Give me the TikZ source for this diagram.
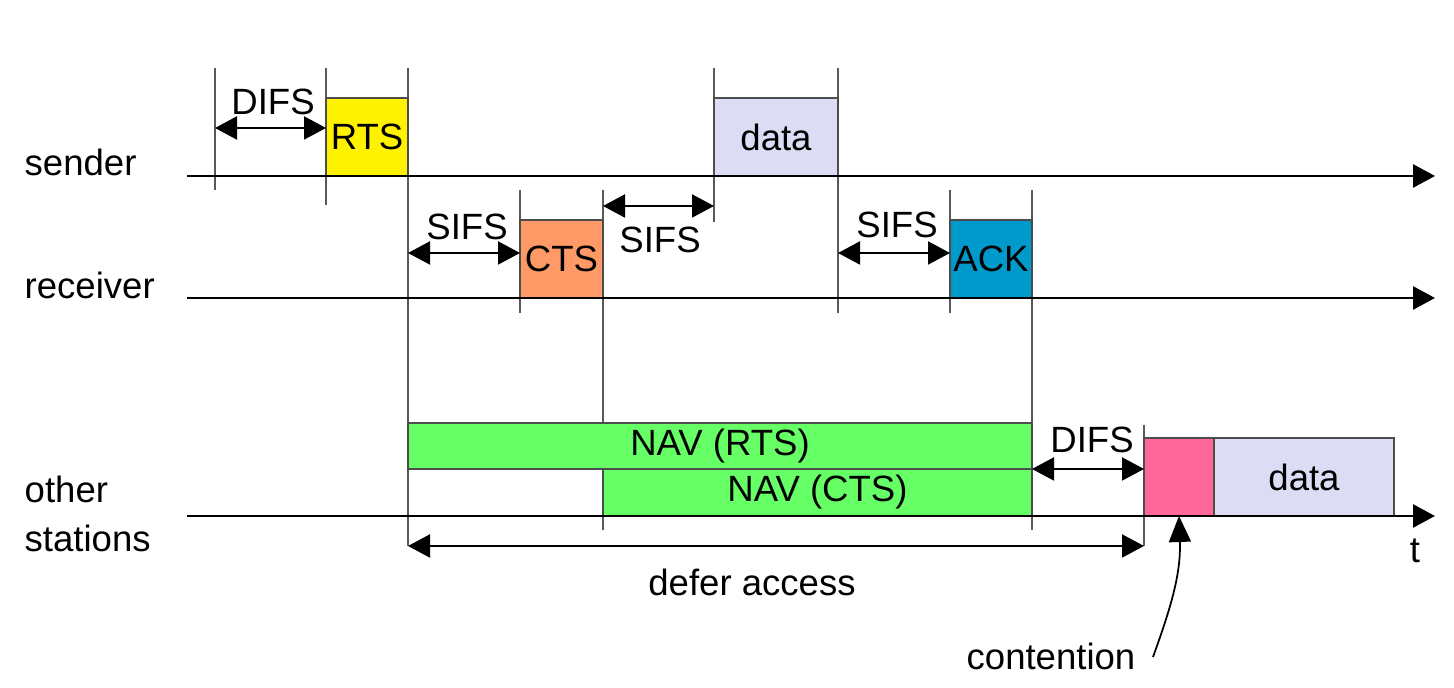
\documentclass[tikz,border=0pt]{standalone}
\usepackage{fontspec}
\setmainfont{Liberation Sans}
\usetikzlibrary{positioning,arrows.meta}
\definecolor{rtsyellow}{HTML}{FFF200}
\definecolor{ctsorange}{HTML}{FF9966}
\definecolor{ackblue}{HTML}{0099CC}
\definecolor{navgreen}{HTML}{66FF66}
\definecolor{contpink}{HTML}{FF6699}
\definecolor{datalav}{HTML}{DCDCF5}

\begin{document}
\begin{tikzpicture}[font=\fontsize{10.4}{12.5}\selectfont,
    bound/.style={draw=black!65,line width=0.5pt},
    timeline/.style={-{Triangle[length=0.22cm,width=0.23cm]},line width=0.8pt},
    gap/.style={{Triangle[length=0.22cm,width=0.23cm]}-{Triangle[length=0.22cm,width=0.23cm]},line width=0.6pt},
    slot/.style={rectangle,draw=black!70,line width=0.5pt,inner sep=0pt,outer sep=0pt,
      anchor=south west,minimum height=0.78cm},
    lbl/.style={anchor=base,inner sep=0pt}
    ]
    \useasboundingbox (0,0) rectangle (14.54,6.88);
    % row labels
    \node[anchor=base west,inner sep=0pt] (snd) at (0.24,5.12) {sender};
    \node[anchor=base west,inner sep=0pt] (rcv) at (0.24,3.89) {receiver};
    \node[anchor=base west,inner sep=0pt] (oth) at (0.24,1.85) {other};
    \node[anchor=base west,inner sep=0pt] (sta) at (0.24,1.36) {stations};
    % axis ends
    \coordinate (s0) at (1.87,5.12); \coordinate (s1) at (14.35,5.12);
    \coordinate (r0) at (1.87,3.90); \coordinate (r1) at (14.35,3.90);
    \coordinate (o0) at (1.87,1.72); \coordinate (o1) at (14.35,1.72);
    % boundaries
    \draw[bound] (2.15,6.20) -- (2.15,4.98);
    \draw[bound] (3.26,6.20) -- (3.26,4.83);
    \draw[bound] (4.08,6.20) -- (4.08,1.42);
    \draw[bound] (7.14,6.20) -- (7.14,4.66);
    \draw[bound] (8.38,6.20) -- (8.38,3.75);
    \draw[bound] (5.20,4.98) -- (5.20,3.75);
    \draw[bound] (6.03,4.98) -- (6.03,1.58);
    \draw[bound] (9.50,4.98) -- (9.50,3.75);
    \draw[bound] (10.32,4.98) -- (10.32,1.58);
    \draw[bound] (11.44,2.63) -- (11.44,1.42);
    % frames
    \node[slot,fill=rtsyellow,minimum width=0.82cm] (rts) at (3.26,5.12) {RTS};
    \node[slot,fill=datalav,minimum width=1.24cm] (dat) at (7.14,5.12) {data};
    \node[slot,fill=ctsorange,minimum width=0.83cm] (cts) at (5.20,3.90) {CTS};
    \node[slot,fill=ackblue,minimum width=0.82cm] (ack) at (9.50,3.90) {ACK};
    \node[slot,fill=navgreen,minimum width=6.24cm,minimum height=0.46cm] (navr) at (4.08,2.19) {NAV (RTS)};
    \node[slot,fill=navgreen,minimum width=4.29cm,minimum height=0.47cm] (navc) at (6.03,1.72) {NAV (CTS)};
    \node[slot,fill=contpink,minimum width=0.70cm] (cont) at (11.44,1.72) {};
    \node[slot,fill=datalav,minimum width=1.80cm] (dat2) at (12.14,1.72) {data};
    % time axes
    \draw[timeline] (s0) -- (s1);
    \draw[timeline] (r0) -- (r1);
    \draw[timeline] (o0) -- (o1);
    \node[lbl] (t) at (14.15,1.25) {t};
    % spacings
    \coordinate (df1) at (2.15,5.60);
    \draw[gap] (df1) -- (df1 -| rts.west);
    \node[lbl] (df1l) at (2.73,5.73) {DIFS};
    \coordinate (sf1) at (4.08,4.35);
    \draw[gap] (sf1) -- (sf1 -| cts.west);
    \node[lbl] (sf1l) at (4.67,4.48) {SIFS};
    \coordinate (sf2) at (6.03,4.82);
    \draw[gap] (sf2) -- (sf2 -| dat.west);
    \node[lbl] (sf2l) at (6.60,4.35) {SIFS};
    \coordinate (sf3) at (8.38,4.35);
    \draw[gap] (sf3) -- (sf3 -| ack.west);
    \node[lbl] (sf3l) at (8.97,4.50) {SIFS};
    \draw[gap] (navr.south east) -- (navr.south east -| cont.west);
    \node[lbl] (df2l) at (10.92,2.35) {DIFS};
    \coordinate (dfr) at (4.08,1.42);
    \draw[gap] (dfr) -- (dfr -| cont.west);
    \node[lbl] (dfrl) at (7.52,0.92) {defer access};
    % contention
    \node[lbl] (ctn) at (10.51,0.18) {contention};
    \coordinate (cc) at (11.53,0.31);
    \draw[-{Triangle[length=0.26cm,width=0.22cm]},line width=0.5pt] (cc) to[out=70,in=-88] (cont.south);
\end{tikzpicture}
\end{document}
